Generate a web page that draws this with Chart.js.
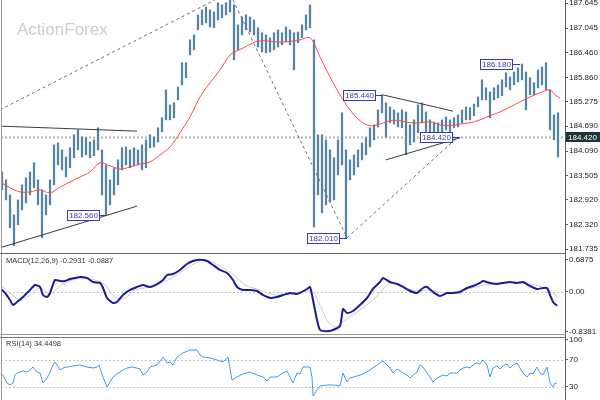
<!DOCTYPE html>
<html>
<head>
<meta charset="utf-8">
<script src="https://cdn.jsdelivr.net/npm/chart.js@4.4.1/dist/chart.umd.min.js"></script>
<style>
  html, body { margin: 0; padding: 0; background: #fff; }
  #wrap { position: relative; width: 600px; height: 400px; overflow: hidden; }
  canvas { position: absolute; left: 0; }
  .ln { position: absolute; }
</style>
</head>
<body>
<div id="wrap">
  <canvas id="main" width="600" height="254" style="top:0"></canvas>
  <canvas id="macd" width="600" height="81" style="top:254px"></canvas>
  <canvas id="rsi" width="600" height="65" style="top:335px"></canvas>
  <div class="ln" style="left:565px;top:0;width:1px;height:400px;background:#5a5a5a"></div>
  <div class="ln" style="left:1px;top:0;width:1px;height:400px;background:#9a9a9a"></div>
  <div class="ln" style="left:0;top:253px;width:566px;height:1px;background:#6a6a6a"></div>
  <div class="ln" style="left:0;top:334px;width:566px;height:1px;background:#9a9a9a"></div>
  <div class="ln" style="left:0;top:337px;width:566px;height:1px;background:#7a7a7a"></div>
</div>
<script>
// H4 bars, time in hours from the first bar
const barHigh = [
  183.59, 183.40, 183.04, 182.56, 182.92, 183.28, 183.45, 183.59, 183.81, 183.40,
  183.16, 183.04, 183.40, 184.24, 184.29, 184.12, 183.95, 184.17, 184.48, 184.60,
  184.43, 184.41, 184.31, 184.36, 184.65, 184.12, 183.76, 183.40, 183.69, 183.88,
  184.17, 184.19, 184.12, 184.17, 184.12, 184.24, 184.36, 184.48, 184.43, 184.65,
  184.89, 185.56, 185.20, 185.25, 185.63, 186.21, 186.21, 186.76, 186.88, 187.36,
  187.48, 187.55, 187.48, 187.43, 187.65, 187.60, 187.65, 187.72, 187.60, 187.12,
  187.31, 187.36, 187.31, 187.24, 187.05, 186.93, 186.88, 186.81, 186.93, 187.00,
  186.93, 187.07, 187.00, 186.93, 186.95, 187.12, 187.36, 187.60, 186.76, 184.48,
  184.48, 184.36, 184.12, 183.93, 184.36, 185.01, 184.12, 183.88, 184.00, 184.12,
  184.29, 184.41, 184.65, 184.72, 185.08, 185.44, 185.25, 185.15, 185.08, 185.01,
  185.08, 185.03, 184.72, 184.84, 185.20, 185.25, 185.03, 184.84, 184.79, 184.77,
  184.84, 184.91, 184.84, 184.89, 184.96, 185.08, 185.15, 185.13, 185.22, 185.39,
  185.80, 185.61, 185.51, 185.61, 185.68, 185.80, 185.97, 185.87, 185.99, 186.09,
  186.18, 185.99, 185.85, 185.73, 186.04, 186.11, 186.21, 185.56, 184.96, 185.01
];
const barLow = [
  183.16, 182.92, 182.25, 181.82, 182.32, 182.68, 182.85, 183.04, 183.21, 182.80,
  182.01, 182.56, 182.80, 183.28, 183.76, 183.64, 183.47, 183.69, 183.93, 184.12,
  183.95, 184.00, 183.93, 183.98, 184.12, 183.04, 182.56, 182.80, 183.04, 183.28,
  183.64, 183.76, 183.69, 183.74, 183.76, 183.64, 183.69, 184.17, 184.19, 184.31,
  184.55, 184.84, 184.84, 184.89, 185.32, 185.68, 185.85, 186.40, 186.52, 187.00,
  187.12, 187.17, 187.07, 187.05, 187.24, 187.29, 187.36, 187.43, 186.28, 186.52,
  186.88, 187.00, 186.95, 186.88, 186.59, 186.47, 186.45, 186.47, 186.52, 186.59,
  186.64, 186.71, 186.64, 186.04, 186.69, 186.81, 187.00, 187.05, 182.27, 183.04,
  182.61, 182.80, 182.87, 182.92, 183.52, 183.76, 182.01, 183.40, 183.52, 183.71,
  183.88, 184.00, 184.19, 184.36, 184.67, 185.01, 184.43, 184.77, 184.74, 184.67,
  184.65, 184.00, 184.24, 184.31, 184.53, 184.77, 184.53, 184.36, 184.41, 184.46,
  184.48, 184.60, 184.43, 184.65, 184.67, 184.77, 184.84, 184.84, 184.94, 185.15,
  185.32, 185.32, 184.89, 185.32, 185.37, 185.42, 185.63, 185.56, 185.68, 185.75,
  185.80, 185.08, 185.44, 185.44, 185.61, 185.68, 185.56, 184.60, 184.36, 183.95
];
const barStep = 4;
const lastPrice = 184.42;

// moving average (red)
const maT = [-2, 8, 18, 28, 38, 48, 58, 68, 78, 88, 98, 108, 118, 128, 138, 148, 158, 168, 178, 188,
  198, 208, 218, 228, 233, 243, 253, 263, 273, 283, 298, 308, 318, 328, 338, 348, 358, 368, 378, 388,
  398, 408, 418, 428, 438, 448, 458, 468, 478, 488, 498, 508, 518, 528, 538, 548, 553, 558];
const maVal = [183.35, 183.21, 183.11, 183.11, 183.16, 183.09, 183.23, 183.35, 183.47, 183.59,
  183.81, 183.74, 183.66, 183.71, 183.78, 183.83, 184.00, 184.19, 184.53, 184.91,
  185.39, 185.73, 186.04, 186.40, 186.47, 186.59, 186.71, 186.74, 186.71, 186.71,
  186.76, 186.81, 186.35, 185.87, 185.44, 185.08, 184.82, 184.70, 184.74, 184.82,
  184.82, 184.77, 184.77, 184.79, 184.72, 184.70, 184.74, 184.77, 184.84, 184.94,
  185.03, 185.15, 185.27, 185.39, 185.49, 185.56, 185.44, 185.37];

// MACD main line and signal
const macdT = [-2, 3, 8, 11, 15, 21, 28, 33, 38, 41, 45, 48, 53, 58, 63, 68, 73, 78, 85, 91,
  98, 101, 105, 111, 115, 121, 128, 135, 141, 148, 155, 161, 165, 171, 178, 185, 191, 198, 205, 211,
  218, 225, 231, 235, 241, 248, 255, 261, 268, 275, 281, 288, 295, 298, 305, 308, 311, 315, 318, 325,
  331, 338, 341, 345, 351, 358, 365, 371, 378, 381, 388, 395, 401, 408, 415, 421, 425, 431, 438, 445,
  451, 458, 465, 471, 478, 481, 488, 495, 501, 508, 515, 521, 528, 535, 541, 545, 548, 551, 555];
const macdVal = [0.085, -0.021, -0.170, -0.277, -0.213, -0.107, 0.043, 0.149, 0.107, -0.064,
  -0.107, -0.021, 0.256, 0.234, 0.234, 0.277, 0.298, 0.320, 0.298, 0.213,
  0.192, 0.085, -0.128, -0.234, -0.213, -0.064, 0.043, 0.107, 0.149, 0.107,
  0.170, 0.256, 0.362, 0.383, 0.469, 0.596, 0.660, 0.688, 0.660, 0.575,
  0.469, 0.405, 0.256, 0.107, 0.043, 0.043, 0.021, -0.064, -0.128, -0.107,
  -0.064, -0.021, -0.043, -0.021, 0.064, 0.107, -0.170, -0.596, -0.809, -0.838,
  -0.809, -0.724, -0.362, -0.447, -0.405, -0.277, -0.128, 0.064, 0.213, 0.298,
  0.213, 0.170, 0.107, 0.021, -0.021, 0.085, 0.107, 0.000, -0.085, -0.021,
  -0.021, 0.000, 0.085, 0.128, 0.192, 0.234, 0.192, 0.170, 0.192, 0.213,
  0.192, 0.213, 0.128, 0.064, 0.085, 0.085, -0.064, -0.213, -0.293];
const sigT = [-2, 8, 18, 28, 38, 48, 58, 68, 78, 93, 103, 113, 123, 133, 148, 158, 173, 188, 203, 218,
  233, 243, 258, 273, 288, 303, 311, 318, 326, 333, 343, 358, 373, 388, 398, 413, 428, 443, 458, 478,
  498, 518, 533, 546, 555];
const sigVal = [0.149, -0.021, -0.170, -0.064, 0.085, -0.043, 0.128, 0.234, 0.298, 0.256,
  0.149, -0.107, -0.128, 0.043, 0.107, 0.170, 0.341, 0.554, 0.682, 0.554,
  0.341, 0.149, 0.043, -0.064, -0.043, 0.021, 0.000, -0.277, -0.639, -0.746,
  -0.596, -0.383, -0.128, 0.192, 0.149, 0.021, 0.043, -0.021, 0.021, 0.128,
  0.192, 0.192, 0.149, 0.043, -0.089];

// RSI(14)
const rsiT = [-2, 1, 5, 8, 11, 13, 15, 18, 21, 25, 28, 31, 35, 38, 41, 45, 48, 51, 53, 55,
  58, 61, 65, 71, 78, 85, 91, 95, 97, 101, 105, 108, 111, 115, 121, 125, 131, 138, 141, 145,
  148, 155, 161, 165, 168, 171, 175, 181, 188, 195, 198, 201, 208, 215, 221, 226, 230, 235, 241, 248,
  255, 261, 265, 268, 275, 281, 285, 288, 291, 295, 298, 301, 308, 310, 311, 315, 318, 325, 331, 338,
  341, 345, 348, 355, 361, 368, 375, 381, 388, 391, 395, 401, 405, 408, 411, 415, 418, 421, 425, 428,
  431, 435, 441, 445, 448, 455, 458, 461, 465, 468, 471, 475, 478, 481, 485, 488, 491, 495, 498, 501,
  505, 508, 511, 515, 518, 521, 525, 528, 531, 535, 538, 541, 545, 548, 551, 553, 555];
const rsiVal = [49.3, 47.8, 35.9, 33.0, 35.9, 47.8, 50.7, 52.2, 53.7, 52.2,
  55.2, 59.6, 52.2, 50.7, 35.9, 43.3, 52.2, 62.6, 67.0, 62.6,
  55.2, 58.1, 59.6, 61.1, 62.6, 59.6, 58.1, 59.6, 62.6, 44.8,
  30.0, 37.4, 44.8, 49.3, 55.2, 58.1, 59.6, 56.7, 47.8, 52.2,
  59.6, 62.6, 74.4, 65.6, 67.0, 62.6, 74.4, 80.4, 84.8, 84.8,
  77.4, 74.4, 73.0, 70.0, 67.0, 74.4, 40.4, 44.8, 49.3, 52.2,
  47.8, 44.8, 38.9, 44.8, 44.8, 50.7, 53.7, 44.8, 35.9, 50.7,
  49.3, 59.6, 59.6, 44.8, 16.7, 25.6, 31.5, 33.0, 33.0, 31.5,
  50.7, 37.4, 43.3, 46.3, 49.3, 55.2, 62.6, 68.5, 58.1, 50.7,
  56.7, 50.7, 47.8, 43.3, 47.8, 52.2, 62.6, 59.6, 50.7, 44.8,
  37.4, 43.3, 47.8, 46.3, 50.7, 50.7, 55.2, 58.1, 59.6, 58.1,
  62.6, 65.6, 64.1, 70.0, 62.6, 44.8, 58.1, 61.1, 56.7, 61.1,
  64.1, 58.1, 62.6, 65.6, 58.1, 50.7, 44.8, 50.7, 49.3, 59.6,
  50.7, 47.8, 59.6, 35.9, 30.0, 35.9, 34.4];

// axis ticks
const priceTicks = [181.735, 182.320, 182.920, 183.505, 184.090, 184.690, 185.275, 185.860, 186.460, 187.045, 187.645];
const macdTicks = [0.6875, 0, -0.8381];
const rsiTicks = [100, 70, 30];
const rsiLevels = [70, 30];

// drawn objects: [t1, price1, t2, price2]
const solidLines = [
  [-2, 184.69, 135, 184.57],
  [-2, 181.77, 135, 182.77],
  [381, 185.44, 451, 185.05],
  [384, 183.88, 458, 184.41]
];
const dottedLines = [
  [-2, 185.08, 213, 187.72],
  [231, 187.72, 345, 182.01],
  [345, 182.01, 455, 184.41]
];
const labelT = [105, 345, 381, 458, 518];
const labelPrice = [182.56, 182.01, 185.44, 184.42, 186.18];

const FONT = 'Liberation Sans, Arial, sans-serif';

function xy(ts, vs) {
  return ts.map((t, i) => ({ x: t, y: vs[i] }));
}

function panelOptions(yMin, yMax, ticks, fmt, pad) {
  return {
    responsive: false,
    animation: false,
    layout: { padding: pad, autoPadding: false },
    plugins: { legend: { display: false }, tooltip: { enabled: false } },
    scales: {
      x: { type: 'linear', min: -1, max: 563, display: false, offset: false },
      y: {
        position: 'right',
        min: yMin,
        max: yMax,
        afterFit: s => { s.width = 35; s.paddingTop = 0; s.paddingBottom = 0; },
        afterBuildTicks: s => { s.ticks = ticks.map(v => ({ value: v })); },
        grid: { drawOnChartArea: false, tickLength: 3, color: '#555' },
        border: { display: false },
        ticks: { padding: 1, color: '#222', autoSkip: false, font: { family: FONT, size: 8 }, callback: fmt }
      }
    }
  };
}

function dottedLevel(ctx, chart, value, color, width) {
  const y = Math.round(chart.scales.y.getPixelForValue(value)) + 0.5;
  ctx.save();
  ctx.strokeStyle = color;
  ctx.lineWidth = width;
  ctx.setLineDash([2, 2]);
  ctx.beginPath();
  ctx.moveTo(chart.chartArea.left, y);
  ctx.lineTo(chart.chartArea.right, y);
  ctx.stroke();
  ctx.restore();
}

// main price panel
const mainDecor = {
  id: 'mainDecor',
  beforeDatasetsDraw(chart) {
    const ctx = chart.ctx;
    ctx.save();
    ctx.fillStyle = '#cdcdcd';
    ctx.font = '17px ' + FONT;
    ctx.textBaseline = 'alphabetic';
    ctx.fillText('ActionForex', 17, 35);
    ctx.restore();
    dottedLevel(ctx, chart, lastPrice, '#aab4b4', 2);
  },
  afterDatasetsDraw(chart) {
    const ctx = chart.ctx, xs = chart.scales.x, ys = chart.scales.y;
    ctx.save();
    ctx.font = '8px ' + FONT;
    ctx.textBaseline = 'middle';
    labelT.forEach((t, i) => {
      const ax = xs.getPixelForValue(t);
      const y = Math.round(ys.getPixelForValue(labelPrice[i])) + 0.5;
      const txt = labelPrice[i].toFixed(3);
      const w = Math.ceil(ctx.measureText(txt).width) + 4;
      const right = Math.round(ax) - 7;
      ctx.fillStyle = '#fff';
      ctx.fillRect(right - w, y - 5, w, 10);
      ctx.strokeStyle = '#3a3ab4';
      ctx.lineWidth = 1;
      ctx.strokeRect(right - w + 0.5, y - 5, w - 1, 10);
      ctx.beginPath();
      ctx.moveTo(right, y);
      ctx.lineTo(ax, y);
      ctx.stroke();
      ctx.fillStyle = '#3a3ab4';
      ctx.fillText(txt, right - w + 2, y + 0.5);
    });
    ctx.restore();
  },
  afterDraw(chart) {
    const ctx = chart.ctx;
    const y = Math.round(chart.scales.y.getPixelForValue(lastPrice));
    ctx.save();
    ctx.fillStyle = '#1f3636';
    ctx.fillRect(566, y - 5, 34, 10);
    ctx.fillStyle = '#fff';
    ctx.font = '8px ' + FONT;
    ctx.textBaseline = 'middle';
    ctx.fillText(lastPrice.toFixed(3), 568, y + 0.5);
    ctx.restore();
  }
};

const mainSets = [
  {
    type: 'line', data: xy(maT, maVal), borderColor: '#ff4a4a', borderWidth: 1,
    pointRadius: 0, tension: 0.35, order: 0
  }
];
solidLines.forEach(l => mainSets.push({
  type: 'line', data: [{ x: l[0], y: l[1] }, { x: l[2], y: l[3] }],
  borderColor: '#3c3c3c', borderWidth: 1, pointRadius: 0, order: 1
}));
dottedLines.forEach(l => mainSets.push({
  type: 'line', data: [{ x: l[0], y: l[1] }, { x: l[2], y: l[3] }],
  borderColor: '#66727a', borderWidth: 1, borderDash: [3, 3], pointRadius: 0, order: 1
}));
mainSets.push({
  type: 'bar',
  data: barHigh.map((h, i) => ({ x: i * barStep, y: [barLow[i], h] })),
  backgroundColor: '#5684a4',
  barThickness: 1.6,
  order: 2
});

new Chart(document.getElementById('main'), {
  type: 'bar',
  data: { datasets: mainSets },
  options: panelOptions(181.645, 187.717, priceTicks, v => v.toFixed(3), { left: 1, top: 0, bottom: 1, right: 0 }),
  plugins: [mainDecor]
});

// MACD panel
const macdDecor = {
  id: 'macdDecor',
  beforeDatasetsDraw(chart) {
    const ctx = chart.ctx;
    dottedLevel(ctx, chart, 0, '#c4c4c4', 1);
    ctx.save();
    ctx.fillStyle = '#333';
    ctx.font = '7.5px ' + FONT;
    ctx.textBaseline = 'middle';
    ctx.fillText('MACD(12,26,9) -0.2931 -0.0887', 6, 7);
    ctx.restore();
  }
};

new Chart(document.getElementById('macd'), {
  type: 'line',
  data: {
    datasets: [
      { data: xy(macdT, macdVal), borderColor: '#1c1c96', borderWidth: 2, pointRadius: 0, tension: 0.2 },
      { data: xy(sigT, sigVal), borderColor: '#cacaca', borderWidth: 1, pointRadius: 0, tension: 0.3 }
    ]
  },
  options: panelOptions(-0.895, 0.788, macdTicks, v => v === 0 ? '0.00' : String(v), { left: 1, top: 1, bottom: 1, right: 0 }),
  plugins: [macdDecor]
});

// RSI panel
const rsiDecor = {
  id: 'rsiDecor',
  beforeDatasetsDraw(chart) {
    const ctx = chart.ctx;
    rsiLevels.forEach(v => dottedLevel(ctx, chart, v, '#c4c4c4', 1));
    ctx.save();
    ctx.fillStyle = '#333';
    ctx.font = '7.5px ' + FONT;
    ctx.textBaseline = 'middle';
    ctx.fillText('RSI(14) 34.4498', 6, 9);
    ctx.restore();
  }
};

new Chart(document.getElementById('rsi'), {
  type: 'line',
  data: {
    datasets: [
      { data: xy(rsiT, rsiVal), borderColor: '#3d9cf2', borderWidth: 1, pointRadius: 0, tension: 0 }
    ]
  },
  options: panelOptions(10.7, 102.6, rsiTicks, v => String(v), { left: 1, top: 3, bottom: 0, right: 0 }),
  plugins: [rsiDecor]
});
</script>
</body>
</html>
